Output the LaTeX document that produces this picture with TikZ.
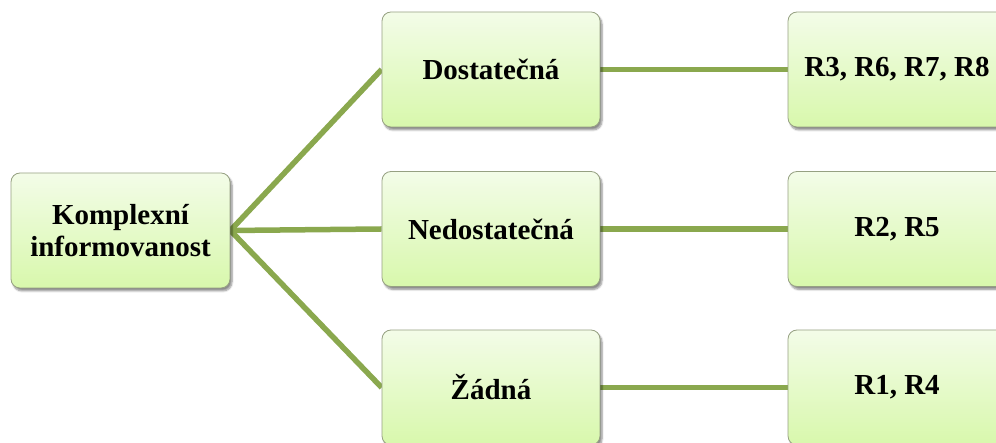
\documentclass[tikz,border=0pt]{standalone}
\usepackage{fontspec}
\setmainfont{Liberation Serif}
\usetikzlibrary{shadows.blur,backgrounds}
\definecolor{linegreen}{RGB}{138,168,78}
\definecolor{boxtop}{RGB}{243,252,232}
\definecolor{boxbot}{RGB}{216,248,172}
\definecolor{boxedge}{RGB}{150,160,130}
\tikzset{
  box/.style={draw=boxedge, line width=0.8pt, rounded corners=9pt,
    top color=boxtop, bottom color=boxbot,
    minimum width=218pt, minimum height=115pt, inner sep=0pt,
    align=center, font=\fontsize{29}{32}\selectfont\bfseries,
    blur shadow={shadow xshift=2pt, shadow yshift=-3pt, shadow blur steps=6, shadow opacity=45}},
  conn/.style={draw=linegreen, line width=5.5pt}
}
\begin{document}
\begin{tikzpicture}[x=1pt,y=1pt]
\useasboundingbox (0,0) rectangle (996,443);
\clip (0,0) rectangle (996,443);
\node[box, minimum width=219pt] (L) at (120.5,212.5) {Komplexní\\informovanost};
\node[box] (M1) at (491,373.5) {Dostatečná};
\node[box] (M2) at (491,214) {Nedostatečná};
\node[box] (M3) at (491,55.5) {Žádná};
\node[box] (R1) at (897,373.5) {R3, R6, R7, R8};
\node[box] (R2) at (897,214) {R2, R5};
\node[box] (R3) at (897,55.5) {R1, R4};
\begin{scope}[on background layer]
\coordinate (S) at (L.east);
\draw[conn] (S) -- (M1.west);
\draw[conn] (S) -- (M2.west);
\draw[conn] (S) -- (M3.west);
\draw[conn] (M1.east) -- (R1.west);
\draw[conn] (M2.east) -- (R2.west);
\draw[conn] (M3.east) -- (R3.west);
\end{scope}
\end{tikzpicture}
\end{document}
